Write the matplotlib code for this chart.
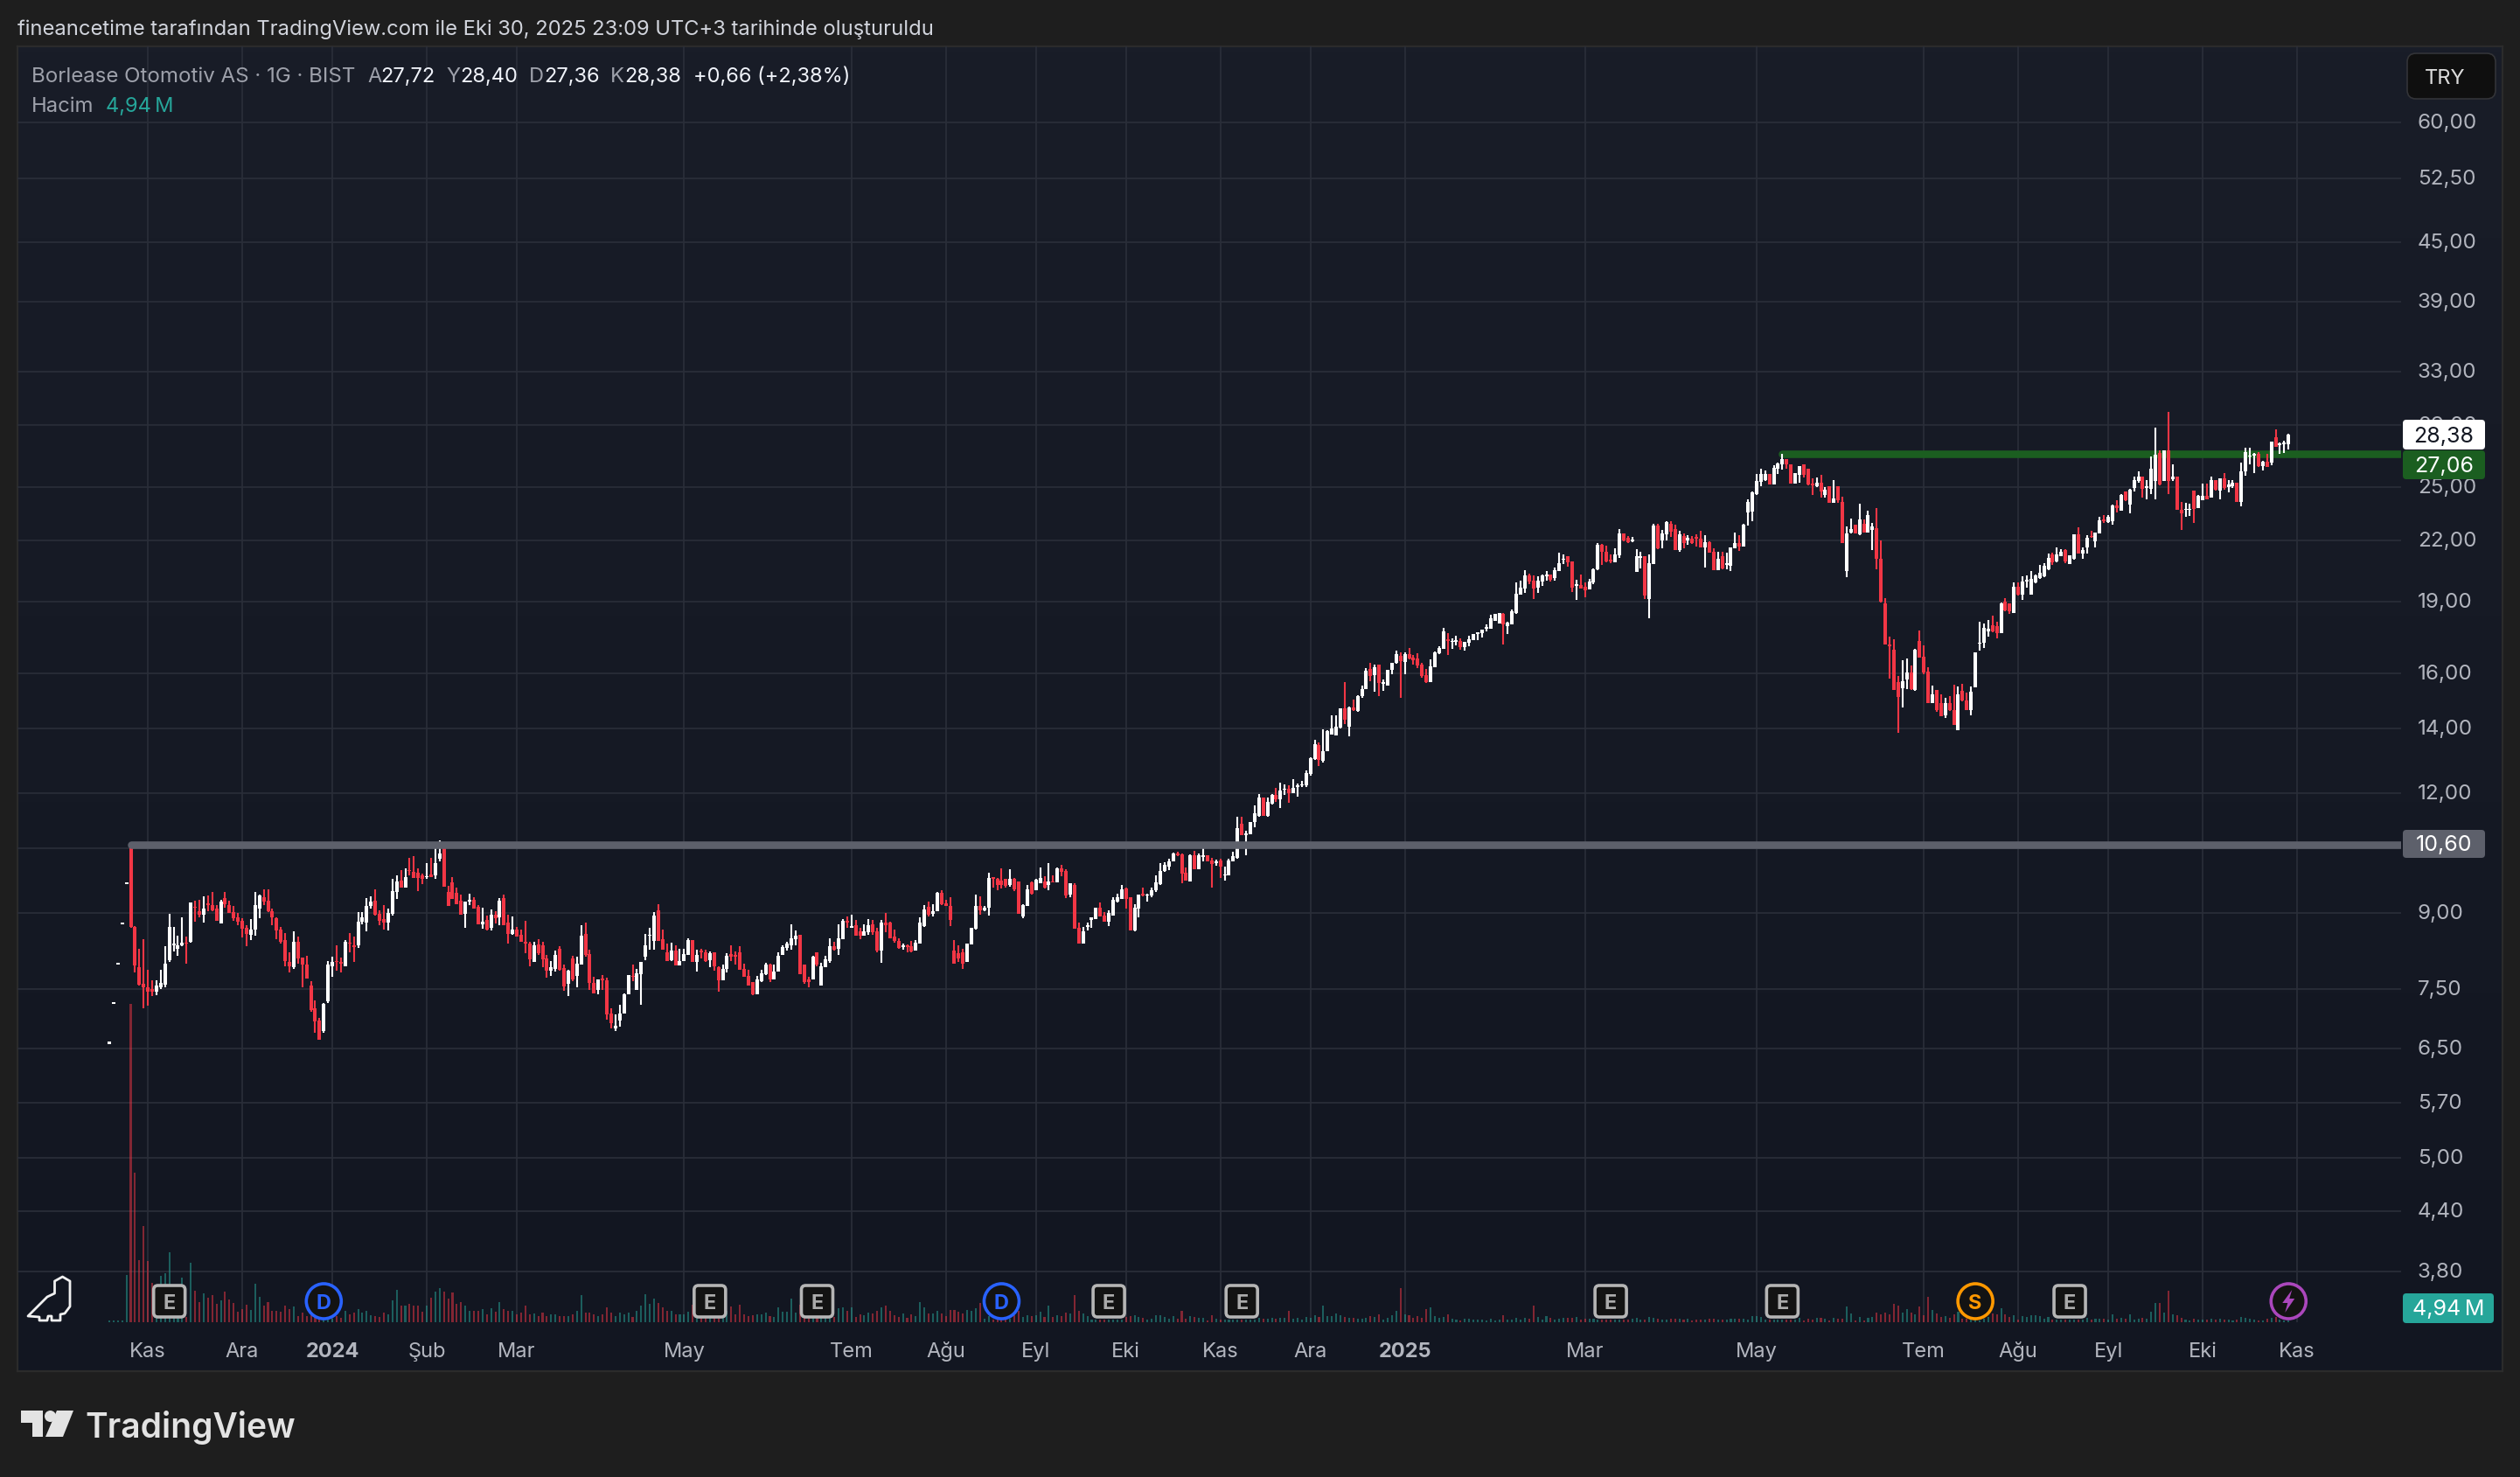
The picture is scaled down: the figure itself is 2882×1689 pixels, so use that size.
import numpy as np
import matplotlib
matplotlib.use("Agg")
import matplotlib.pyplot as plt
from matplotlib.patches import FancyBboxPatch, Circle, Polygon
from matplotlib.ticker import NullLocator, NullFormatter
from matplotlib.transforms import ScaledTranslation

plt.rcParams['font.family'] = ['Inter', 'DejaVu Sans']

opens = [6.57,7.23,7.95,8.75,9.63,
10.60,8.70,7.90,7.58,7.52,7.49,7.44,7.52,7.57,8.03,
8.33,8.25,8.33,8.38,8.39,9.13,9.03,8.96,9.20,9.16,
9.08,8.77,9.32,9.17,9.01,8.90,8.82,8.67,8.54,8.65,
9.08,9.35,9.26,9.04,8.89,8.64,8.42,8.00,7.90,8.40,
8.08,7.95,7.55,7.15,6.95,6.78,7.28,7.92,8.02,7.99,
7.92,8.38,8.33,8.32,8.81,8.79,9.14,9.26,8.97,8.86,
8.79,8.97,9.46,9.72,9.55,9.97,9.93,9.91,9.85,9.80,
9.86,9.85,10.24,10.50,9.45,9.67,9.43,9.26,8.97,9.24,
9.29,9.13,8.75,8.84,8.68,8.95,8.90,9.32,8.79,8.55,
8.65,8.53,8.40,8.35,7.99,8.34,8.32,8.06,7.83,7.87,
8.26,7.88,7.58,8.06,7.74,7.95,8.56,8.15,7.61,7.48,
7.69,7.65,7.07,6.82,6.95,7.07,7.40,7.74,7.48,7.76,
8.09,8.51,8.41,9.05,8.44,
8.18,8.03,8.21,7.93,8.01,8.14,8.42,7.99,8.21,8.19,
8.03,8.18,7.89,7.65,7.87,8.15,8.13,8.18,7.87,7.73,
7.62,7.40,7.64,7.76,7.95,7.67,7.81,8.13,8.27,8.32,
8.44,8.53,7.94,7.67,7.66,8.18,7.56,7.90,8.01,8.31,
8.25,8.45,8.82,8.68,8.73,8.60,8.52,8.58,8.75,8.60,
8.22,8.79,8.78,8.49,8.41,8.29,8.32,8.30,8.22,8.35,
8.71,9.12,8.98,9.03,9.44,9.21,9.14,8.21,8.16,8.18,
7.99,8.34,8.66,9.14,9.06,9.10,9.80,9.76,9.73,9.76,
9.61,9.77,9.70,8.92,9.15,9.67,9.50,9.66,9.71,9.62,
9.71,9.67,10.02,9.94,9.39,9.62,8.67,8.36,8.70,8.84,
8.87,9.10,8.93,8.80,8.94,9.25,9.31,9.54,9.34,8.62,
9.09,9.42,9.38,9.38,9.49,9.63,9.95,10.05,10.19,10.38,
10.36,9.91,9.71,10.32,9.99,10.28,10.33,10.21,10.14,10.21,
9.85,9.85,10.17,10.27,11.14,10.84,10.87,11.18,11.36,11.86,
11.35,11.70,11.95,11.81,12.08,12.11,11.98,12.16,12.21,12.21,
12.55,13.01,13.46,12.96,13.26,13.80,13.76,14.04,14.70,14.06,
14.72,14.62,15.13,15.40,16.16,15.93,16.32,15.59,15.52,16.12,
16.38,16.67,16.43,16.73,16.60,16.56,16.33,15.92,15.65,16.22,
16.77,16.94,17.35,17.24,17.25,17.28,17.03,17.20,17.31,17.57,
17.60,17.81,17.78,18.14,18.02,18.45,17.92,17.98,18.47,19.31,
19.59,20.22,19.97,19.63,19.93,20.18,20.26,20.09,20.43,21.00,
21.16,20.92,19.72,19.76,19.67,19.55,19.88,20.52,21.76,21.40,
21.00,20.88,21.22,22.36,22.13,21.96,20.39,21.09,21.16,19.10,
20.80,22.80,22.00,22.32,22.89,22.60,21.49,22.22,22.00,22.08,
22.18,22.08,21.63,21.90,21.40,20.48,21.16,20.75,20.71,21.59,
21.85,21.67,23.54,23.57,24.60,25.33,25.42,25.78,25.16,26.11,
26.42,26.74,26.38,25.21,25.74,26.40,26.11,25.21,25.04,25.28,
24.55,25.07,24.07,25.04,24.12,20.44,22.41,22.85,22.32,22.88,
22.44,22.57,22.65,21.07,18.91,17.14,16.91,15.66,15.44,15.75,
16.03,15.35,17.27,16.63,16.07,14.88,15.37,14.90,14.46,14.88,
14.63,13.94,15.32,14.98,14.63,15.45,17.16,17.19,17.69,17.94,
17.91,17.60,19.01,18.91,18.48,19.68,19.32,19.93,19.32,19.87,
20.08,20.18,20.53,21.26,20.90,21.19,21.49,20.78,21.04,22.33,
21.30,21.64,22.24,21.95,22.38,23.14,22.99,23.05,23.91,23.62,
24.72,23.96,24.93,25.35,25.64,24.93,24.90,25.37,27.11,25.39,
27.30,25.46,25.64,23.65,23.65,23.67,24.79,23.79,24.24,24.50,
24.38,25.42,24.78,25.51,24.99,25.07,25.28,24.12,25.96,26.89,
26.98,27.08,26.29,26.55,26.52,28.21,27.66,27.70,27.72]

closes = [6.60,7.26,7.98,8.78,9.67,
8.70,7.93,7.57,7.52,7.45,7.45,7.55,7.60,7.96,8.69,
8.36,8.32,8.37,8.36,9.22,9.10,8.95,9.09,9.16,9.05,
8.82,9.24,9.18,8.99,8.89,8.80,8.66,8.55,8.65,9.16,
9.38,9.24,9.03,8.90,8.63,8.39,8.02,7.91,8.40,8.07,
7.95,7.68,7.13,6.93,6.63,7.23,7.95,8.00,7.99,7.97,
8.40,8.35,8.29,8.81,8.90,9.14,9.24,8.96,8.82,8.79,
8.99,9.47,9.69,9.55,9.81,9.94,9.78,9.78,9.77,9.83,
9.81,10.13,10.38,9.58,9.14,9.31,9.19,8.96,9.24,9.28,
9.08,8.75,8.80,8.65,8.95,8.88,9.27,8.74,8.55,8.64,
8.50,8.40,8.36,8.05,8.33,8.17,8.05,7.83,7.90,8.14,
7.85,7.54,7.83,7.66,7.96,8.51,8.13,7.61,7.42,7.66,
7.65,7.05,6.90,6.86,7.06,7.40,7.75,7.71,7.78,8.00,
8.33,8.54,8.94,8.41,8.24,
8.02,8.21,7.93,8.01,8.15,8.42,8.00,8.14,8.18,8.01,
8.17,7.92,7.65,7.87,8.11,8.10,8.10,7.85,7.72,7.56,
7.40,7.67,7.78,7.94,7.66,7.81,8.11,8.28,8.36,8.47,
8.52,7.76,7.62,7.62,8.10,7.94,7.91,8.04,8.30,8.24,
8.46,8.82,8.78,8.72,8.52,8.51,8.60,8.73,8.58,8.21,
8.79,8.73,8.47,8.41,8.27,8.33,8.29,8.20,8.37,8.79,
9.07,8.95,9.04,9.43,9.18,9.15,8.84,7.97,8.07,7.96,
8.36,8.67,9.14,9.06,9.11,9.78,9.77,9.61,9.62,9.59,
9.77,9.51,8.98,9.17,9.52,9.41,9.75,9.78,9.55,9.69,
9.67,10.00,9.92,9.38,9.65,8.66,8.35,8.61,8.73,8.90,
9.10,8.92,8.80,9.00,9.29,9.35,9.52,9.30,8.62,9.10,
9.40,9.38,9.40,9.50,9.67,9.95,10.10,10.19,10.38,10.33,
9.89,9.73,10.33,9.99,10.32,10.32,10.19,10.12,10.19,10.05,
9.87,10.21,10.30,11.03,10.85,10.88,11.18,11.42,11.86,11.36,
11.74,11.95,11.81,12.06,12.11,11.98,12.14,12.21,12.25,12.58,
13.03,13.49,12.99,13.26,13.92,14.00,14.07,14.69,14.30,14.72,
14.64,15.15,15.40,16.10,15.90,16.23,15.61,15.65,16.12,16.39,
16.73,16.46,16.73,16.56,16.50,16.30,15.88,15.65,16.27,16.80,
16.98,17.70,17.29,17.28,17.30,17.03,17.24,17.35,17.57,17.64,
17.75,17.86,18.25,18.45,18.49,17.98,18.05,18.55,19.35,19.63,
20.22,19.93,19.59,19.97,20.22,20.26,20.03,20.48,20.82,21.04,
20.88,19.63,19.80,19.59,19.50,19.93,20.52,21.76,21.40,20.92,
20.92,21.26,22.38,22.00,21.90,22.04,21.16,21.20,19.26,20.85,
22.80,21.59,22.36,22.97,22.46,21.49,22.32,21.85,22.13,21.85,
22.10,21.63,21.90,21.35,20.48,21.04,20.57,20.82,21.63,21.85,
21.67,22.84,24.13,24.68,25.39,25.78,25.78,25.16,26.18,26.44,
26.74,26.38,25.21,25.87,26.29,25.76,25.14,25.11,25.28,24.76,
24.86,24.07,24.35,24.25,21.87,22.38,22.60,22.35,23.12,22.41,
23.37,22.76,21.04,19.01,17.13,17.05,15.37,15.10,15.70,16.03,
15.39,16.93,16.61,16.01,14.88,15.19,14.63,14.43,14.90,14.63,
14.11,15.19,14.98,14.63,15.29,16.80,17.22,17.85,17.79,17.69,
17.60,18.91,18.61,18.55,19.69,19.32,19.93,20.01,20.04,20.24,
20.35,20.71,21.11,20.87,21.26,21.41,20.90,21.22,22.32,21.33,
21.49,22.15,22.17,22.41,23.07,23.05,23.26,23.94,23.79,24.54,
24.21,24.85,25.42,25.64,24.90,25.07,26.13,27.02,25.16,27.30,
25.39,25.64,23.67,23.49,23.70,23.74,23.74,24.48,24.48,24.26,
25.42,24.85,25.54,24.93,25.16,25.25,24.12,25.96,27.17,26.98,
27.08,26.29,26.55,26.24,27.88,27.55,27.76,27.85,28.38]

highs = [6.60,7.26,7.98,8.78,9.67,
10.60,8.72,8.26,8.45,7.85,7.65,7.65,7.85,8.30,8.98,
8.69,8.51,8.90,8.49,9.23,9.26,9.29,9.36,9.38,9.46,
9.17,9.28,9.46,9.27,9.14,8.99,8.88,8.74,8.86,9.46,
9.40,9.51,9.51,9.09,8.90,8.69,8.57,8.18,8.60,8.49,
8.08,8.12,7.64,7.29,6.99,7.25,8.02,8.09,8.33,8.08,
8.43,8.57,8.50,9.01,9.02,9.32,9.36,9.51,9.05,9.16,
9.09,9.77,9.85,9.97,10.01,10.27,10.30,10.01,9.89,10.13,
10.27,10.55,10.70,10.52,9.59,9.81,9.56,9.40,9.24,9.42,
9.34,9.16,9.11,8.93,9.07,9.04,9.32,9.40,8.95,8.92,
8.69,8.64,8.82,8.39,8.40,8.45,8.39,8.14,8.01,8.22,
8.30,7.94,7.85,8.11,8.10,8.74,8.79,8.23,7.72,7.66,
7.75,7.70,7.16,7.05,7.22,7.41,7.74,7.94,7.87,8.00,
8.56,8.68,9.02,9.18,8.64,
8.35,8.38,8.32,8.26,8.25,8.46,8.42,8.23,8.26,8.23,
8.20,8.18,7.92,7.94,8.16,8.33,8.20,8.30,7.97,7.85,
7.62,7.73,7.85,7.98,7.97,7.94,8.18,8.33,8.40,8.75,
8.62,8.53,7.94,7.71,8.12,8.18,7.98,8.11,8.46,8.39,
8.75,8.86,8.92,8.96,8.84,8.67,8.76,8.86,8.84,8.67,
8.84,8.99,8.80,8.64,8.47,8.35,8.34,8.41,8.42,8.90,
9.17,9.24,9.18,9.45,9.49,9.29,9.34,8.42,8.33,8.26,
8.36,8.68,9.40,9.36,9.15,9.91,9.80,9.79,10.02,9.77,
9.99,9.79,9.71,9.19,9.62,9.69,9.76,10.03,9.82,10.14,
9.84,10.03,10.10,9.99,9.65,9.66,8.79,8.69,8.79,8.90,
9.10,9.22,9.01,9.06,9.34,9.42,9.61,9.55,9.34,9.18,
9.40,9.56,9.42,9.56,9.85,10.14,10.16,10.25,10.39,10.41,
10.38,10.03,10.36,10.45,10.38,10.50,10.33,10.26,10.23,10.25,
10.06,10.24,10.41,11.32,11.32,10.96,11.20,11.65,11.96,11.86,
11.86,11.96,12.15,12.29,12.25,12.23,12.39,12.28,12.34,12.66,
13.08,13.63,13.54,13.98,13.95,14.45,14.45,14.69,15.65,14.75,
15.00,15.17,15.52,16.18,16.39,16.31,16.32,15.75,16.12,16.39,
16.90,16.80,16.80,16.98,16.70,16.77,16.39,16.15,16.53,16.84,
17.05,17.82,17.60,17.38,17.50,17.38,17.24,17.50,17.57,17.64,
17.75,17.98,18.41,18.45,18.49,18.49,18.09,18.63,19.89,19.97,
20.48,20.31,20.22,20.18,20.26,20.43,20.26,20.61,21.35,21.26,
21.16,20.92,20.01,20.26,19.88,20.05,20.57,21.85,21.80,21.72,
21.26,21.59,22.60,22.36,22.22,22.18,21.55,21.40,21.16,21.26,
22.89,22.89,22.55,23.05,23.05,22.84,22.50,22.36,22.27,22.22,
22.32,22.50,22.27,21.94,21.59,21.40,21.40,21.35,21.63,22.42,
22.27,22.89,24.29,24.75,25.82,26.11,26.04,25.78,26.37,26.52,
27.08,26.74,26.38,25.87,26.29,26.40,26.11,25.51,25.60,25.74,
24.98,25.07,25.42,25.04,24.41,22.73,23.17,22.85,24.00,23.12,
23.60,22.96,23.76,22.02,19.14,17.47,17.35,15.90,16.49,16.58,
16.30,16.96,17.71,17.11,16.24,15.54,15.37,15.19,15.09,15.14,
15.57,15.50,15.59,15.27,15.50,16.80,18.08,18.03,18.19,18.38,
18.10,18.97,19.14,18.91,19.87,19.87,20.18,20.21,20.46,20.25,
20.75,20.82,21.33,21.36,21.61,21.52,21.55,21.22,22.32,22.70,
21.64,22.26,22.52,22.41,23.28,23.40,23.40,23.97,24.21,24.57,
24.75,24.89,25.64,25.96,25.64,25.42,26.89,28.84,27.30,27.30,
29.93,26.38,25.64,24.12,24.07,24.00,24.79,24.54,25.21,25.21,
25.64,25.42,25.54,25.85,25.42,25.42,25.28,26.51,27.50,27.50,
27.15,27.19,26.60,27.08,27.88,28.72,27.85,27.95,28.40]

lows = [6.57,7.23,7.95,8.75,9.63,
8.68,7.80,7.55,7.15,7.20,7.37,7.38,7.49,7.53,8.00,
8.20,8.11,8.31,7.96,8.38,8.80,8.90,8.79,9.04,9.04,
8.82,8.77,9.11,8.99,8.82,8.73,8.48,8.30,8.42,8.51,
8.89,9.17,9.01,8.74,8.44,8.36,7.92,7.80,7.87,7.97,
7.52,7.68,7.09,6.75,6.63,6.75,7.24,7.71,7.83,7.79,
7.92,8.18,8.00,8.27,8.75,8.60,9.08,8.94,8.74,8.64,
8.62,8.93,9.31,9.55,9.55,9.84,9.78,9.47,9.64,9.77,
9.81,9.77,10.18,9.57,9.14,9.31,9.19,8.96,8.67,9.16,
9.08,8.75,8.66,8.62,8.62,8.77,8.74,8.74,8.35,8.54,
8.49,8.40,8.17,7.91,7.99,8.14,7.90,7.70,7.74,7.81,
7.83,7.46,7.36,7.64,7.53,7.95,8.10,7.47,7.42,7.40,
7.47,6.96,6.82,6.77,6.85,7.07,7.40,7.63,7.47,7.22,
8.03,8.24,8.24,8.41,8.23,
8.01,8.02,7.93,7.93,8.01,8.14,8.00,7.81,8.06,8.00,
7.90,7.83,7.44,7.65,7.79,8.01,7.94,7.85,7.72,7.56,
7.38,7.40,7.62,7.75,7.62,7.67,7.81,8.13,8.21,8.24,
8.32,7.76,7.58,7.52,7.66,7.91,7.56,7.89,7.98,8.22,
8.14,8.45,8.68,8.67,8.51,8.44,8.52,8.53,8.53,8.18,
7.98,8.59,8.46,8.38,8.26,8.23,8.18,8.18,8.22,8.35,
8.70,8.92,8.92,9.03,9.17,9.15,8.71,7.96,7.99,7.87,
7.99,8.34,8.64,8.96,9.04,8.94,9.56,9.49,9.54,9.55,
9.58,9.48,8.98,8.89,9.15,9.39,9.50,9.65,9.53,9.49,
9.67,9.67,9.82,9.32,9.35,8.66,8.35,8.36,8.62,8.67,
8.86,8.92,8.80,8.71,8.94,9.23,9.31,9.09,8.62,8.60,
8.90,9.36,9.25,9.35,9.45,9.62,9.93,9.96,10.19,10.30,
9.65,9.72,9.69,9.98,9.99,10.19,10.19,9.56,10.07,9.78,
9.73,9.85,10.17,10.25,10.84,10.32,10.87,11.06,11.34,11.35,
11.34,11.68,11.74,11.56,11.94,11.71,11.98,11.89,12.17,12.16,
12.51,12.99,12.80,12.90,13.26,13.80,13.76,14.00,14.14,13.74,
14.62,14.57,15.09,15.40,15.68,15.29,15.13,15.32,15.52,15.95,
16.36,15.07,15.95,16.53,16.32,16.20,15.81,15.61,15.65,16.22,
16.73,16.94,16.70,16.94,17.09,16.92,16.89,17.06,17.31,17.31,
17.42,17.67,17.78,18.14,18.02,17.15,17.56,17.98,18.43,19.31,
19.38,19.80,19.10,19.38,19.72,19.97,19.93,19.97,20.43,20.78,
20.67,19.42,19.07,19.59,19.18,19.55,19.80,20.48,20.75,20.88,
20.84,20.88,21.09,21.96,21.85,21.90,20.39,20.57,19.10,18.25,
20.80,21.55,21.59,22.00,22.18,21.49,21.40,21.59,21.76,21.80,
21.67,21.63,20.61,21.35,20.48,20.48,20.52,20.52,20.43,21.59,
21.44,21.67,22.80,23.02,24.55,25.07,25.39,25.16,25.16,25.82,
26.06,26.14,25.21,25.21,25.28,25.60,25.11,24.54,24.99,24.38,
24.38,24.07,24.07,24.07,21.87,20.15,22.38,22.35,22.29,22.41,
22.41,21.48,20.53,18.97,17.13,15.79,15.37,13.86,14.72,15.40,
15.37,15.33,16.61,15.97,14.88,14.88,14.59,14.41,14.36,14.61,
14.11,13.94,14.96,14.63,14.46,15.45,16.88,16.99,17.47,17.66,
17.39,17.60,18.57,18.45,18.48,19.28,19.08,19.65,19.32,19.84,
20.04,20.15,20.49,20.75,20.87,21.19,20.82,20.78,21.00,21.33,
21.04,21.33,22.14,21.64,22.36,22.95,22.94,22.85,23.51,23.62,
24.18,23.47,24.76,25.25,24.38,24.28,24.58,24.28,25.11,25.39,
24.58,25.39,23.67,22.57,23.30,23.34,22.94,23.79,24.21,24.26,
24.38,24.79,24.30,24.86,24.69,24.97,24.12,23.85,25.71,26.42,
25.87,26.22,26.02,26.22,26.33,27.55,27.08,27.12,27.36]

# volume in millions
volumes = [4,4,4,4,108,
728,342,142,220,140,90,40,106,112,160,40,40,102,12,136,72,46,66,56,62,42,50,70,52,44,24,30,
40,28,88,58,38,46,26,26,24,38,30,36,14,22,14,16,10,6,8,6,8,14,10,26,18,22,30,22,26,16,14,12,22,18,50,74,38,38,42,38,38,24,38,56,70,78,70,54,68,42,46,38,26,26,26,30,18,32,24,46,30,26,26,18,22,38,18,20,14,22,14,18,18,14,14,14,18,26,62,22,22,18,14,18,34,22,14,22,18,22,12,26,38,64,42,54,44,34,26,26,18,18,18,24,
40,40,40,40,40,40,40,40,
26,36,18,40,18,14,16,18,18,22,14,12,34,24,24,54,22,
40,40,40,40,40,40,40,40,
12,32,34,26,34,12,18,16,22,20,
26,34,38,26,16,12,20,10,18,14,46,34,20,20,26,20,14,28,28,24,20,28,26,32,44,8,14,6,6,6,8,8,16,26,12,16,14,16,24,12,38,12,16,14,22,20,62,26,20,14,
6,6,6,6,6,6,6,6,
12,14,16,12,10,6,8,16,16,12,8,14,8,26,8,14,12,10,10,4,16,8,
6,6,6,6,6,6,6,6,6,
10,8,8,10,8,10,10,26,
8,10,6,12,10,16,12,38,14,14,20,16,12,10,10,8,8,10,14,12,18,6,10,16,26,78,18,16,10,14,10,30,34,14,10,12,18,8,6,4,8,8,6,6,6,4,8,4,6,16,6,6,10,6,10,8,38,12,6,14,10,6,8,10,10,10,12,6,8,8,8,6,6,6,6,6,6,6,6,8,10,6,6,12,10,8,6,6,8,8,8,6,8,4,6,6,
6,8,8,6,6,6,8,8,8,8,6,14,14,12,
6,6,6,6,6,6,6,6,
10,4,8,6,10,10,8,4,10,8,8,36,20,4,12,4,10,12,22,18,22,18,42,38,22,30,22,18,36,16,58,28,20,12,14,10,18,24,
8,8,6,6,4,8,12,
20,18,32,18,12,16,6,14,12,16,16,14,8,12,
6,6,6,6,6,6,6,6,
10,6,8,8,8,6,18,8,10,8,18,6,8,10,8,24,44,44,22,72,18,16,10,6,4,8,6,6,6,8,6,8,6,6,4,6,12,10,8,6,4,4,8,10,12,6,4,4.94]

price_ticks = [60,52.5,45,39,33,29,25,22,19,16,14,12,10.5,9,7.5,6.5,5.7,5,4.4,3.8]
month_idx = [9,31,52,74,95,134,173,195,216,237,259,280,302,344,384,423,445,466,488,510]
month_labels = ['Kas','Ara','2024','Şub','Mar','May','Tem','Ağu','Eyl','Eki','Kas','Ara','2025','Mar','May','Tem','Ağu','Eyl','Eki','Kas']
resistance_level = 10.60
resistance_start = 5
support_level = 27.06
support_start = 390
last_close = 28.38
last_volume_text = '4,94\u2009M'
earnings_idx = [14,140,165,233,264,350,390,457]
dividend_idx = [50,208]
split_idx = [435]
news_idx = [508]

for name, arr in [('opens',opens),('closes',closes),('highs',highs),('lows',lows),('volumes',volumes)]:
    assert len(arr) == 509, f"{name} has {len(arr)}"

W, H = 2882, 1690
DPI = 100
PANEL = (20, 54, 2862, 1569)   # px: left, top, right, bottom
PLOT_R = 2746
PLOT_B = 1513
BG = '#1e1e1e'
GRID = '#2a2e39'
TXT = '#b2b5be'
UP, DOWN = '#ffffff', '#f23645'

fig = plt.figure(figsize=(W/DPI, H/DPI), dpi=DPI, facecolor=BG)

def rect_px(l, t, r, b):
    return [l/W, 1-b/H, (r-l)/W, (b-t)/H]

# panel background with subtle vertical gradient
ax_bg = fig.add_axes(rect_px(*PANEL), zorder=0)
grad = np.linspace(0, 1, 256)[:, None, None]
top, bot = np.array([25, 29, 40])/255, np.array([18, 22, 33])/255
ax_bg.imshow(top*(1-grad)+bot*grad, aspect='auto', extent=(0, 1, 0, 1))
ax_bg.set_xticks([]); ax_bg.set_yticks([])
for s in ax_bg.spines.values():
    s.set_color('#2b2b2b'); s.set_linewidth(1.6)

x = np.arange(len(closes))
o, h, l, c = map(np.array, (opens, highs, lows, closes))
up = c >= o
colors = np.where(up, UP, DOWN)

ax = fig.add_axes(rect_px(PANEL[0], PANEL[1], PLOT_R, PLOT_B), zorder=1, facecolor='none')
ax.set_yscale('log')
ax.set_xlim(-21.40, 534.24)
ax.set_ylim(3.367, 72.03)
ax.yaxis.set_minor_locator(NullLocator())
ax.yaxis.set_minor_formatter(NullFormatter())
ax.yaxis.tick_right()
ax.set_yticks(price_ticks)
ax.set_yticklabels([f"{t:.2f}".replace('.', ',') for t in price_ticks], fontsize=17.4, color=TXT)
ax.tick_params(axis='y', length=0, pad=13.5)
label_shift = ScaledTranslation(0, 2.5/DPI, fig.dpi_scale_trans)
for lab in ax.get_yticklabels():
    lab.set_transform(lab.get_transform() + label_shift)
ax.set_xticks(month_idx)
ax.set_xticklabels(month_labels, fontsize=17, color=TXT)
ax.tick_params(axis='x', length=0, pad=28)
for lab in ax.get_xticklabels():
    lab.set_va('baseline')
    if lab.get_text().isdigit():
        lab.set_fontweight('bold')
ax.grid(True, color=GRID, lw=1.5, alpha=.85)
ax.set_axisbelow(True)
for s in ax.spines.values():
    s.set_visible(False)

ax.plot([support_start, 600], [support_level]*2, color='#1b5e20', lw=6.2, solid_capstyle='round', zorder=2)
wicks = ax.vlines(x, l, h, colors=colors, lw=1.5, zorder=3)
bodies = ax.vlines(x, np.minimum(o, c), np.maximum(o, c), colors=colors, lw=2.9, zorder=4)
wicks.set_capstyle('butt'); bodies.set_capstyle('butt')
ax.plot([resistance_start, 600], [resistance_level]*2, color='#5d606b', lw=6.2, solid_capstyle='round', zorder=5)

ax_v = fig.add_axes(rect_px(PANEL[0], PANEL[1], PLOT_R, PLOT_B), zorder=2, facecolor='none')
ax_v.set_xlim(ax.get_xlim())
ax_v.set_ylim(0, (PLOT_B-PANEL[1])*2)
ax_v.axis('off')
ax_v.bar(x, volumes, width=0.42, color=np.where(up, '#26a69a', DOWN), alpha=0.5, linewidth=0)

# pixel overlay for the chrome
ov = fig.add_axes([0, 0, 1, 1], zorder=3, facecolor='none')
ov.set_xlim(0, W); ov.set_ylim(H, 0); ov.axis('off')

ov.text(20, 31, 'fineancetime tarafından TradingView.com ile Eki 30, 2025 23:09 UTC+3 tarihinde oluşturuldu',
        color='#d1d4dc', fontsize=17.1, va='center_baseline')

LEG = '#9ea1ab'; VAL = '#f0f3fa'
ov.text(36, 85, 'Borlease Otomotiv AS · 1G · BIST', color=LEG, fontsize=17.35, va='center_baseline')
for px, s, col in [(420, 'A', LEG), (435, '27,72', VAL),
                   (510, 'Y', LEG), (526, '28,40', VAL), (605, 'D', LEG), (622, '27,36', VAL),
                   (698, 'K', LEG), (714, '28,38', VAL), (793, '+0,66 (+2,38%)', VAL)]:
    ov.text(px, 85, s, color=col, fontsize=17, va='center_baseline')
ov.text(36, 120, 'Hacim', color=LEG, fontsize=17.2, va='center_baseline')
ov.text(121, 120, last_volume_text, color='#26a69a', fontsize=17, va='center_baseline')

def tag(l, t, r, b, text, fc, tc, fs=18):
    ov.add_patch(FancyBboxPatch((l, t), r-l, b-t, boxstyle='round,pad=0,rounding_size=4', fc=fc, ec='none'))
    ov.text((l+r)/2, (t+b)/2-1.5, text, color=tc, fontsize=fs, ha='center', va='center_baseline')

ov.add_patch(FancyBboxPatch((2753, 62), 101, 52, boxstyle='round,pad=0,rounding_size=10', fc='#0f0f0f', ec='#333438', lw=1.2))
ov.text(2773, 87, 'TRY', color='#dbdbdb', fontsize=17, va='center_baseline')

tag(2748, 481, 2842, 515, f"{last_close:.2f}".replace('.', ','), '#ffffff', '#131722')
tag(2748, 516, 2842, 549, f"{support_level:.2f}".replace('.', ','), '#1b5e20', '#ffffff')
tag(2748, 950, 2842, 982, f"{resistance_level:.2f}".replace('.', ','), '#5d606b', '#ffffff')
tag(2748, 1480, 2852, 1514, last_volume_text, '#26a69a', '#ffffff')

def bar_px(i):
    return ov.transData.inverted().transform(ax.transData.transform((i, 10)))[0]

BADGE_Y = 1489
for i in earnings_idx:
    cx = bar_px(i)
    ov.add_patch(FancyBboxPatch((cx-18, BADGE_Y-18), 36, 36, boxstyle='round,pad=0,rounding_size=5',
                                fc='#131313', ec='#b5b5b5', lw=2.6, zorder=5))
    ov.text(cx, BADGE_Y, 'E', color='#ababab', fontsize=17, fontweight='bold', ha='center', va='center_baseline', zorder=6)
for idxs, col, letter in [(dividend_idx, '#2962ff', 'D'), (split_idx, '#ff9800', 'S')]:
    for i in idxs:
        cx = bar_px(i)
        ov.add_patch(Circle((cx, BADGE_Y), 20, fc='#131313', ec=col, lw=2.6, zorder=5))
        ov.text(cx, BADGE_Y, letter, color=col, fontsize=17, fontweight='bold', ha='center', va='center_baseline', zorder=6)
for i in news_idx:
    cx = bar_px(i)
    ov.add_patch(Circle((cx, BADGE_Y), 20, fc='#131313', ec='#ab47bc', lw=2.6, zorder=5))
    ov.add_patch(Polygon([(cx+4, BADGE_Y-13), (cx-7, BADGE_Y+2), (cx-1, BADGE_Y+2), (cx-4, BADGE_Y+13),
                          (cx+7, BADGE_Y-3), (cx+1, BADGE_Y-3)], closed=True, fc='#ab47bc', ec='none', zorder=6))

# dinosaur icon
ov.add_patch(Polygon([(32, 1506), (54, 1484), (62.5, 1480), (62.5, 1466), (71.5, 1461), (80, 1466), (80, 1495),
                      (74, 1503), (69, 1504), (69, 1511), (59, 1511), (59, 1506), (55, 1506), (54, 1511),
                      (45, 1511), (45, 1507)], closed=True, fc='none', ec='#f0f0f0', lw=2, joinstyle='round'))

# TradingView logo
LOGO = '#e3e3e3'
ov.add_patch(Polygon([(24, 1614), (49, 1614), (49, 1644), (37, 1644), (37, 1628), (24, 1628)], closed=True, fc=LOGO, ec='none'))
ov.add_patch(Circle((57.5, 1620.5), 6.5, fc=LOGO, ec='none'))
ov.add_patch(Polygon([(65, 1614), (84, 1614), (72, 1644), (52, 1644)], closed=True, fc=LOGO, ec='none'))
ov.text(97, 1629, 'TradingView', color=LOGO, fontsize=28, fontweight='semibold', va='center_baseline')

fig.savefig('out.png', dpi=DPI, facecolor=BG)
